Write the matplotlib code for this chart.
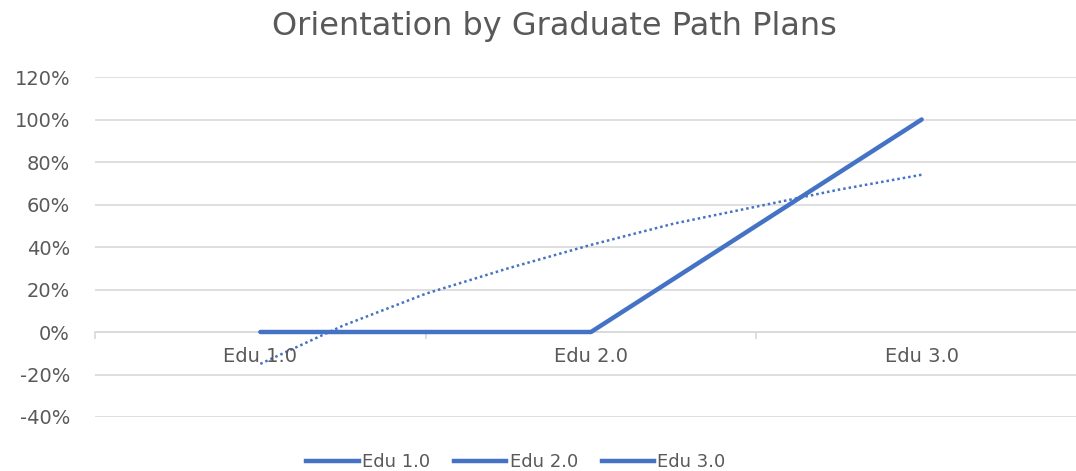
import matplotlib.pyplot as plt
from matplotlib.lines import Line2D

categories = ["Edu 1.0", "Edu 2.0", "Edu 3.0"]
values = [0.0, 0.0, 1.0]

# dotted trendline, values at quarter steps
trend_x = [1.0, 1.25, 1.5, 1.75, 2.0, 2.25, 2.5, 2.75, 3.0]
trend_y = [-0.15, 0.03, 0.18, 0.30, 0.41, 0.51, 0.59, 0.67, 0.74]

yticks = [-0.4, -0.2, 0.0, 0.2, 0.4, 0.6, 0.8, 1.0, 1.2]

blue = "#4472C4"
grey = "#595959"
plt.rcParams['font.family'] = ['DejaVu Sans']

fig = plt.figure(figsize=(10.76, 4.71), dpi=100)
ax = fig.add_axes([95 / 1076, 1 - 417 / 471, 992 / 1076, 340 / 471])

xs = [1, 2, 3]
ax.plot(xs, values, color=blue, lw=3.2, solid_capstyle='round', zorder=3)
ax.plot(trend_x, trend_y, color=blue, lw=1.8, ls=(0, (1, 1.2)), zorder=3)

ax.set_xlim(0.5, 3.5)
ax.set_ylim(-0.4, 1.2)
ax.set_yticks(yticks)
ax.set_yticklabels([f"{round(v * 100)}%" for v in yticks], color=grey, fontsize=14)
ax.grid(axis='y', color='#d9d9d9', lw=1.2)
ax.set_axisbelow(True)
ax.tick_params(axis='y', length=0, pad=18)

for s in ['top', 'right', 'left']:
    ax.spines[s].set_visible(False)
ax.spines['bottom'].set_position(('data', 0))
ax.spines['bottom'].set_color('#d9d9d9')
ax.spines['bottom'].set_linewidth(1.2)

# category boundary ticks on the zero line, labels below it
ax.set_xticks([0.5, 1.5, 2.5, 3.5])
ax.set_xticklabels([])
ax.tick_params(axis='x', length=5, color='#d9d9d9', width=1.2)
for x, c in zip(xs, categories):
    ax.text(x, -0.115, c, ha='center', va='center', color=grey, fontsize=14)

fig.text(554 / 1076, 1 - 27 / 471, "Orientation by Graduate Path Plans",
         ha='center', va='center', color=grey, fontsize=23)

handles = [Line2D([], [], color=blue, lw=3.2) for _ in categories]
fig.legend(handles, categories, loc='center', bbox_to_anchor=(516 / 1076, 1 - 462 / 471),
           ncol=3, frameon=False, fontsize=13, labelcolor=grey,
           handlelength=2.9, handletextpad=0.2, columnspacing=1.3)

fig.savefig("out.png", dpi=100)
